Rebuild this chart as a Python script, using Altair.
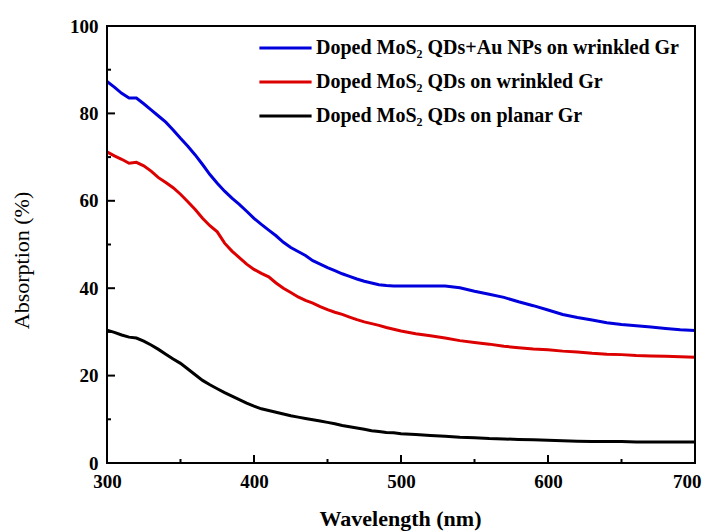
import altair as alt
import pandas as pd

wavelength = [300, 305, 310, 315, 320, 325, 330, 335, 340, 345, 350, 355, 360, 365, 370,
              375, 380, 385, 390, 395, 400, 405, 410, 415, 420, 425, 430, 435, 440, 445,
              450, 455, 460, 465, 470, 475, 480, 485, 490, 495, 500, 510, 520, 530, 540,
              550, 560, 570, 580, 590, 600, 610, 620, 630, 640, 650, 660, 670, 680, 690, 700]

blue = [87.3, 86.0, 84.6, 83.5, 83.5, 82.2, 80.8, 79.4, 78.0, 76.2, 74.3, 72.5, 70.5, 68.3, 66.0,
        64.0, 62.2, 60.6, 59.2, 57.6, 56.0, 54.6, 53.3, 52.0, 50.5, 49.3, 48.4, 47.5, 46.3, 45.5,
        44.7, 44.0, 43.3, 42.7, 42.1, 41.6, 41.2, 40.8, 40.6, 40.5, 40.5, 40.5, 40.5, 40.5, 40.1,
        39.3, 38.6, 37.9, 36.9, 36.0, 35.0, 34.0, 33.3, 32.7, 32.1, 31.7, 31.4, 31.1, 30.8, 30.5, 30.3]

red = [71.2, 70.3, 69.5, 68.6, 68.8, 68.0, 66.8, 65.3, 64.2, 63.0, 61.5, 59.8, 58.0, 56.0, 54.3,
       52.9, 50.3, 48.5, 47.0, 45.5, 44.3, 43.4, 42.6, 41.2, 40.0, 39.0, 38.0, 37.2, 36.6, 35.8,
       35.1, 34.5, 34.0, 33.4, 32.8, 32.3, 31.9, 31.5, 31.0, 30.6, 30.2, 29.6, 29.1, 28.6, 28.0,
       27.6, 27.2, 26.7, 26.4, 26.1, 25.9, 25.6, 25.4, 25.1, 24.9, 24.8, 24.6, 24.5, 24.4, 24.3, 24.2]

black = [30.4, 29.9, 29.3, 28.8, 28.6, 27.9, 27.0, 26.0, 24.9, 23.8, 22.8, 21.5, 20.2, 18.9, 17.9,
         17.0, 16.1, 15.3, 14.5, 13.7, 13.0, 12.4, 12.0, 11.6, 11.2, 10.8, 10.5, 10.2, 9.9, 9.6,
         9.3, 9.0, 8.6, 8.3, 8.0, 7.7, 7.4, 7.2, 7.0, 6.9, 6.7, 6.5, 6.3, 6.1, 5.9,
         5.8, 5.6, 5.5, 5.4, 5.3, 5.2, 5.1, 5.0, 4.9, 4.9, 4.9, 4.8, 4.8, 4.8, 4.8, 4.8]

series_names = ["Doped MoS\u2082 QDs+Au NPs on wrinkled Gr",
                "Doped MoS\u2082 QDs on wrinkled Gr",
                "Doped MoS\u2082 QDs on planar Gr"]
series_colors = ["#0000DD", "#DD0000", "#000000"]

x_major = [300, 400, 500, 600, 700]
x_minor = [350, 450, 550, 650]
y_major = [0, 20, 40, 60, 80, 100]
y_minor = [10, 30, 50, 70, 90]

rows = []
for name, vals in zip(series_names, [blue, red, black]):
    for w, v in zip(wavelength, vals):
        rows.append({"wavelength": w, "absorption": v, "series": name})
df = pd.DataFrame(rows)

W, H = 588, 437
SERIF = "Liberation Serif"

xscale = alt.Scale(domain=[300, 700], nice=False, zero=False)
yscale = alt.Scale(domain=[0, 100], nice=False)

lines = alt.Chart(df).mark_line(strokeWidth=3).encode(
    x=alt.X("wavelength:Q", scale=xscale,
            axis=alt.Axis(title="Wavelength (nm)", values=x_major, ticks=False, domain=False,
                          grid=False, labelPadding=9, labelFont=SERIF, labelFontSize=19,
                          labelFontWeight="bold", labelColor="black", labelFlush=False,
                          labelAlign={"condition": {"test": "datum.value >= 700", "value": "right"},
                                      "value": "center"},
                          labelOffset={"condition": {"test": "datum.value >= 700", "value": 6},
                                       "value": 0},
                          titleFont=SERIF, titleFontSize=22, titleFontWeight="bold",
                          titleColor="black", titleX=293, titleY=62,
                          titleBaseline="alphabetic", titleAlign="center")),
    y=alt.Y("absorption:Q", scale=yscale,
            axis=alt.Axis(title="Absorption (%)", values=y_major, ticks=False, domain=False,
                          grid=False, labelPadding=9, labelFont=SERIF, labelFontSize=19,
                          labelFontWeight="bold", labelColor="black", labelFlush=False,
                          titleFont=SERIF, titleFontSize=22, titleFontWeight="normal",
                          titleColor="black", titleX=-86, titleY=234,
                          titleBaseline="middle", titleAlign="center", titleAngle=270)),
    color=alt.Color("series:N",
                    scale=alt.Scale(domain=series_names, range=series_colors),
                    sort=series_names,
                    legend=alt.Legend(title=None, orient="none", legendX=154.5, legendY=-2,
                                      symbolType="M-1.16,0H1.16", symbolSize=2025,
                                      symbolStrokeWidth=3, labelFont=SERIF,
                                      labelFontSize=20, labelFontWeight="bold",
                                      labelColor="black", labelOffset=6.5, rowPadding=0,
                                      labelLimit=600, padding=0)),
)

frame = alt.Chart(pd.DataFrame({"a": [0]})).mark_rect(
    filled=False, stroke="black", strokeWidth=2
).encode(
    x=alt.datum(300, scale=xscale), x2=alt.datum(700),
    y=alt.datum(0, scale=yscale), y2=alt.datum(100),
)

def xticks(vals, length):
    return alt.Chart(pd.DataFrame({"t": vals})).mark_rule(color="black", strokeWidth=2).encode(
        x=alt.X("t:Q", scale=xscale),
        y=alt.value(H), y2=alt.value(H - length))

def yticks(vals, length):
    return alt.Chart(pd.DataFrame({"t": vals})).mark_rule(color="black", strokeWidth=2).encode(
        y=alt.Y("t:Q", scale=yscale),
        x=alt.value(0), x2=alt.value(length))

chart = alt.layer(
    lines, frame,
    xticks(x_major, 8), xticks(x_minor, 4),
    yticks(y_major, 8), yticks(y_minor, 4),
).properties(
    width=W, height=H,
    autosize=alt.AutoSizeParams(type="none"),
    padding={"left": 99, "top": 18, "right": 7, "bottom": 68},
).configure(
    background="white"
).configure_view(
    stroke="black", strokeWidth=2
)

chart.save("out.html", embed_options={"renderer": "svg", "actions": False})
